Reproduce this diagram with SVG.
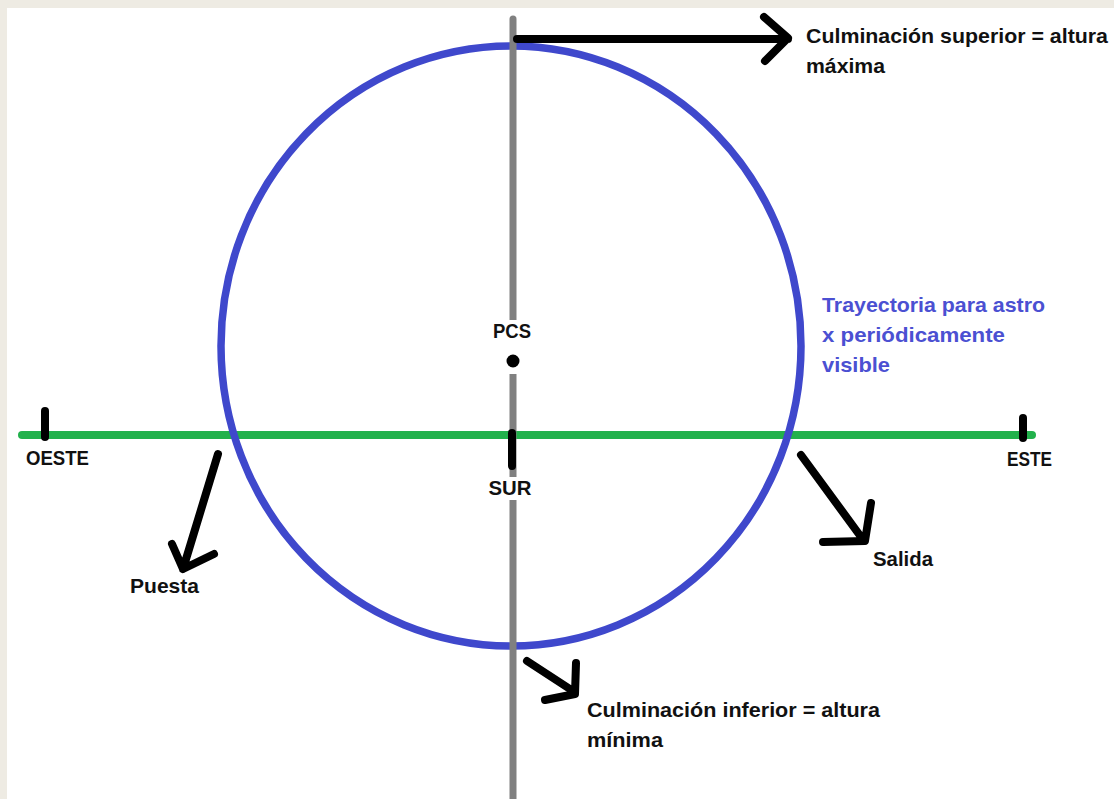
<svg xmlns="http://www.w3.org/2000/svg" width="1114" height="799" viewBox="0 0 1114 799">
<style>
.t{font-family:"Liberation Sans",Arial,sans-serif;font-weight:bold;font-size:21px;fill:#111}
.b{fill:#4b50d2}
.arr{stroke:#000;stroke-width:8;stroke-linecap:round;stroke-linejoin:round;fill:none}
.tick{stroke:#000;stroke-width:8;stroke-linecap:round}
</style>
<rect width="1114" height="799" fill="#eeebe3"/>
<rect x="7" y="8" width="1107" height="791" fill="#fff"/>
<g id="horizon">
<line x1="22" y1="435" x2="1032" y2="435" stroke="#22b14c" stroke-width="8" stroke-linecap="round"/>
</g>
<g id="trajectory">
<ellipse cx="511" cy="346" rx="290" ry="300" fill="none" stroke="#3f48cc" stroke-width="7.5"/>
</g>
<g id="meridian">
<line x1="513" y1="19" x2="513" y2="800" stroke="#808080" stroke-width="7" stroke-linecap="round"/>
<rect x="490" y="320" width="45" height="54" fill="#fff"/>
<rect x="485" y="477" width="50" height="23" fill="#fff"/>
</g>
<g id="pcs">
<text class="t" x="512" y="338" text-anchor="middle" textLength="38" lengthAdjust="spacingAndGlyphs">PCS</text>
<circle cx="513" cy="361" r="6.5" fill="#000"/>
</g>
<g id="oeste">
<line class="tick" x1="45" y1="411" x2="45" y2="437"/>
<text class="t" x="26" y="465" textLength="63" lengthAdjust="spacingAndGlyphs">OESTE</text>
</g>
<g id="este">
<line class="tick" x1="1023" y1="418" x2="1023" y2="438"/>
<text class="t" x="1007" y="466" textLength="45" lengthAdjust="spacingAndGlyphs">ESTE</text>
</g>
<g id="sur">
<line class="tick" x1="512" y1="433" x2="512" y2="466"/>
<text class="t" x="510" y="495" text-anchor="middle" textLength="43" lengthAdjust="spacingAndGlyphs">SUR</text>
</g>
<g id="connectors">
<path class="arr" d="M517,39 L788,39 M764,17 L788,38 L765,61"/>
<path class="arr" d="M218,454 L183,569 M172,544 L183,569 L214,554"/>
<path class="arr" d="M801,455 L864,541 M871,503 L865,541 L823,542"/>
<path class="arr" d="M527,661 L573,691 M576,663 L575,694 L545,700"/>
</g>
<g id="culm-sup">
<text class="t" x="806" y="43" textLength="302" lengthAdjust="spacingAndGlyphs">Culminación superior = altura</text>
<text class="t" x="806" y="73" textLength="79" lengthAdjust="spacingAndGlyphs">máxima</text>
</g>
<g id="trayectoria-label">
<text class="t b" x="822" y="312" textLength="223" lengthAdjust="spacingAndGlyphs">Trayectoria para astro</text>
<text class="t b" x="822" y="342" textLength="183" lengthAdjust="spacingAndGlyphs">x periódicamente</text>
<text class="t b" x="822" y="372" textLength="68" lengthAdjust="spacingAndGlyphs">visible</text>
</g>
<g id="puesta">
<text class="t" x="130" y="593" textLength="69" lengthAdjust="spacingAndGlyphs">Puesta</text>
</g>
<g id="salida">
<text class="t" x="873" y="566" textLength="60" lengthAdjust="spacingAndGlyphs">Salida</text>
</g>
<g id="culm-inf">
<text class="t" x="587" y="717" textLength="293" lengthAdjust="spacingAndGlyphs">Culminación inferior = altura</text>
<text class="t" x="587" y="747" textLength="76" lengthAdjust="spacingAndGlyphs">mínima</text>
</g>
</svg>
